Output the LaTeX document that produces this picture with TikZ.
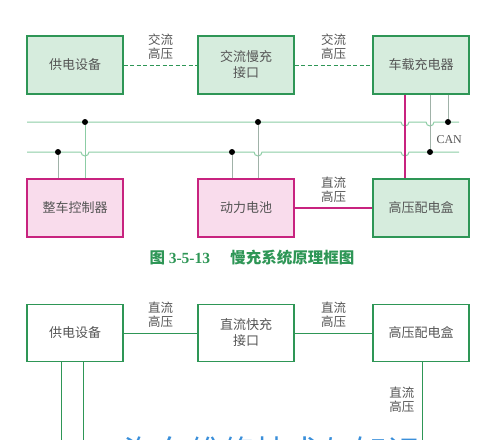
\documentclass[tikz,border=0pt]{standalone}
\usepackage{fontspec}
\newfontfamily\cjk{Noto Sans CJK SC}
\setmainfont{Liberation Serif}
\usepackage{xcolor}
\definecolor{boxgreen}{RGB}{46, 150, 86}
\definecolor{fillgreen}{RGB}{214, 236, 221}
\definecolor{boxpink}{RGB}{200, 35, 127}
\definecolor{fillpink}{RGB}{249, 220, 236}
\definecolor{busgreen}{RGB}{140, 205, 165}
\definecolor{wiregray}{RGB}{160, 178, 168}
\definecolor{textgray}{RGB}{85, 85, 85}
\definecolor{wmblue}{RGB}{58, 143, 218}
\usepackage{tikz}
\usetikzlibrary{positioning, calc}

\begin{document}
\begin{tikzpicture}[x=1pt, y=-1pt,
		gbox/.style={rectangle, draw=boxgreen, fill=fillgreen, line width=1.3pt,
			minimum width=96pt, minimum height=58pt, inner sep=0pt,
			align=center, font=\cjk\fontsize{13}{16}\selectfont, text=textgray},
		wbox/.style={gbox, fill=white},
		pbox/.style={gbox, draw=boxpink, fill=fillpink},
		lbl/.style={font=\cjk\fontsize{12.5}{14}\selectfont, text=textgray, align=center},
		bus/.style={draw=busgreen, line width=1pt},
		sig/.style={draw=wiregray, line width=1pt},
		hv/.style={draw=boxpink, line width=1.3pt},
		ac/.style={draw=boxgreen, dash pattern=on 4pt off 2.5pt, line width=0.8pt},
		dc/.style={draw=boxgreen, line width=0.8pt},
		dot/.style={circle, fill=black, inner sep=0pt, minimum size=6pt}
		]
		\useasboundingbox (0,0) rectangle (500,439);
		
		% Slow charging
		\node[gbox] (supply)  at (75, 65)   {供电设备};
		\node[gbox] (acport)  at (246, 65)  {交流慢充\\接口};
		\node[gbox] (obc)     at (421, 65)  {车载充电器};
		\node[pbox] (vcu)     at (75, 208)  {整车控制器};
		\node[pbox] (battery) at (246, 208) {动力电池};
		\node[gbox] (pdu)     at (421, 208) {高压配电盒};
		
		\draw[ac] (supply) -- (acport) node[midway, lbl, above=2pt] {交流\\高压};
		\draw[ac] (acport) -- (obc) node[midway, lbl, above=2pt] {交流\\高压};
		\draw[hv] (battery) -- (pdu) node[midway, lbl, above=2pt] {直流\\高压};
		
		% CAN bus
		\coordinate (busAl) at (27, 122);
		\coordinate (busAr) at (459, 122);
		\coordinate (busBl) at (27, 152);
		\coordinate (busBr) at (459, 152);
		\draw[bus] (busAl) -- (401,122) arc (180:0:4) -- (426,122) arc (180:0:4) -- (busAr);
		\draw[bus] (busBl) -- (81,152) arc (180:0:4) -- (254,152) arc (180:0:4)
		-- (401,152) arc (180:0:4) -- (busBr);
		
		\node[dot] (nA1) at (85, 122) {};
		\node[dot] (nA2) at (258, 122) {};
		\node[dot] (nA3) at (448, 122) {};
		\node[dot] (nB1) at (58, 152) {};
		\node[dot] (nB2) at (232, 152) {};
		\node[dot] (nB3) at (430, 152) {};
		\node[font=\fontsize{12}{14}\selectfont, text=textgray, anchor=west] (can) at (433, 140) {CAN};
		
		\draw[bus] (nA1) -- (nA1 |- vcu.north);
		\draw[sig] (nB1) -- (nB1 |- vcu.north);
		\draw[sig] (nA2) -- (nA2 |- battery.north);
		\draw[sig] (nB2) -- (nB2 |- battery.north);
		\draw[sig] (nA3 |- obc.south) -- (nA3);
		\draw[sig] (nB3 |- obc.south) -- (nB3);
		\draw[hv] (obc.south -| 405,0) -- (pdu.north -| 405,0);
		
		\node[font=\cjk\bfseries\fontsize{15.5}{18}\selectfont, text=boxgreen] (cap1) at (252, 258)
		{图 {\rmfamily 3-5-13}\hspace{1.3em}慢充系统原理框图};
		
		% Fast charging
		\node[wbox, minimum height=57pt] (supply2) at (75, 333)  {供电设备};
		\node[wbox, minimum height=57pt] (dcport)  at (246, 333) {直流快充\\接口};
		\node[wbox, minimum height=57pt] (pdu2)    at (421, 333) {高压配电盒};
		
		\draw[dc] (supply2) -- (dcport) node[midway, lbl, above=2pt] {直流\\高压};
		\draw[dc] (dcport) -- (pdu2) node[midway, lbl, above=2pt] {直流\\高压};
		
		\coordinate (endA) at (61, 445);
		\coordinate (endB) at (83, 445);
		\coordinate (endC) at (422, 445);
		\draw[dc] (supply2.south -| endA) -- (endA);
		\draw[dc] (supply2.south -| endB) -- (endB);
		\draw[dc] (pdu2.south -| endC) -- (endC) node[pos=0.45, lbl, left=4pt] {直流\\高压};
		
		\node[font=\cjk\fontsize{33}{36}\selectfont, text=wmblue] (mark) at (272, 452) {汽车维修技术与知识};
	\end{tikzpicture}
\end{document}
